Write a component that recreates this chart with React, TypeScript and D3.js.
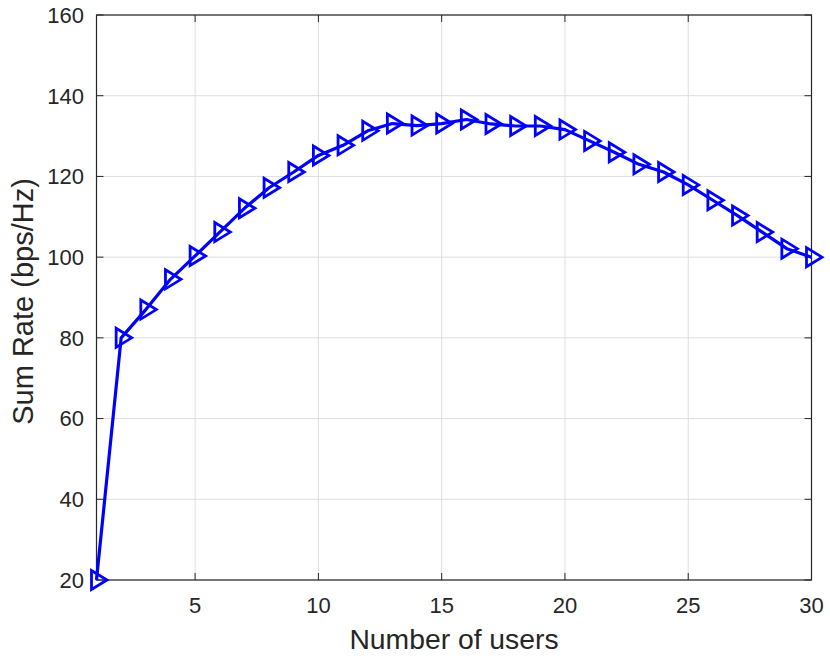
import React from "react";
import * as d3 from "d3";

const users = Array.from({ length: 30 }, (_, i) => i + 1);
const sumRate = [
  20, 80, 87, 94.5, 100.3, 106.2, 112.1, 117.2, 121.1, 125.2,
  127.7, 131.3, 133.1, 132.6, 133.1, 134.1, 133, 132.5, 132.5, 131.6,
  128.8, 126, 123, 121.1, 117.9, 114.1, 110.3, 106.2, 102.1, 100,
];
const xTicks = [5, 10, 15, 20, 25, 30];
const yTicks = [20, 40, 60, 80, 100, 120, 140, 160];

const W = 830;
const H = 663;
const M = { left: 96.5, right: 811.5, top: 15, bottom: 580 };
const AX = "#262626";
const FONT = "'Liberation Sans', Arial, Helvetica, sans-serif";

export default function App() {
  const x = d3.scaleLinear().domain([1, 30]).range([M.left, M.right]);
  const y = d3.scaleLinear().domain([20, 160]).range([M.bottom, M.top]);
  const line = d3
    .line<number>()
    .x((_, i) => x(users[i]))
    .y((d) => y(d));
  const tri = "M-5,-9.5 L-5,9.5 L10.5,0 Z";
  const tl = 7;
  return (
    <svg
      width={W}
      height={H}
      style={{ position: "absolute", left: 0, top: 0, background: "#fff" }}
    >
      <rect x={0} y={0} width={W} height={H} fill="#fff" />
      {/* grid */}
      {xTicks.map((t) => (
        <line key={"gx" + t} x1={x(t)} x2={x(t)} y1={M.top} y2={M.bottom} stroke="#dedede" strokeWidth={1} />
      ))}
      {yTicks.map((t) => (
        <line key={"gy" + t} x1={M.left} x2={M.right} y1={y(t)} y2={y(t)} stroke="#dedede" strokeWidth={1} />
      ))}
      {/* ticks */}
      {xTicks.map((t) => (
        <g key={"tx" + t}>
          <line x1={x(t)} x2={x(t)} y1={M.bottom} y2={M.bottom - tl} stroke={AX} />
          <line x1={x(t)} x2={x(t)} y1={M.top} y2={M.top + tl} stroke={AX} />
          <text x={x(t)} y={613} textAnchor="middle" fontFamily={FONT} fontSize={22} fill={AX}>
            {t}
          </text>
        </g>
      ))}
      {yTicks.map((t) => (
        <g key={"ty" + t}>
          <line x1={M.left} x2={M.left + tl} y1={y(t)} y2={y(t)} stroke={AX} />
          <line x1={M.right} x2={M.right - tl} y1={y(t)} y2={y(t)} stroke={AX} />
          <text x={84} y={y(t)} dy="0.36em" textAnchor="end" fontFamily={FONT} fontSize={22} fill={AX}>
            {t}
          </text>
        </g>
      ))}
      {/* box */}
      <rect
        x={M.left}
        y={M.top}
        width={M.right - M.left}
        height={M.bottom - M.top}
        fill="none"
        stroke={AX}
        strokeWidth={1.2}
      />
      {/* data */}
      <path d={line(sumRate) || ""} fill="none" stroke="#0000ff" strokeWidth={3.2} strokeLinejoin="round" />
      {sumRate.map((v, i) => (
        <path
          key={"m" + i}
          d={tri}
          transform={`translate(${x(users[i])},${y(v)})`}
          fill="none"
          stroke="#0000ff"
          strokeWidth={2.8}
        />
      ))}
      {/* labels */}
      <text x={(M.left + M.right) / 2} y={649} textAnchor="middle" fontFamily={FONT} fontSize={28.3} fill={AX}>
        Number of users
      </text>
      <text
        transform={`translate(33,${(M.top + M.bottom) / 2 + 4}) rotate(-90)`}
        textAnchor="middle"
        fontFamily={FONT}
        fontSize={29}
        fill={AX}
      >
        Sum Rate (bps/Hz)
      </text>
    </svg>
  );
}
